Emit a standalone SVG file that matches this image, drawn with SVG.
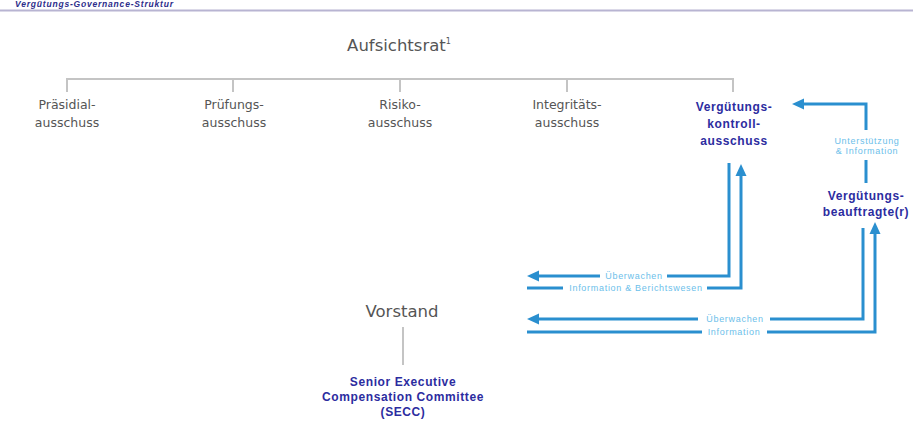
<svg xmlns="http://www.w3.org/2000/svg" width="913" height="448" viewBox="0 0 913 448">
<style>
.gray{font-family:"DejaVu Sans",sans-serif;fill:#555;text-anchor:middle}
.big{font-size:16.5px}
.sm{font-size:12.5px}
.blue{font-family:"Liberation Sans",Arial,sans-serif;font-weight:bold;font-size:12px;letter-spacing:0.6px;fill:#2c2ca0;text-anchor:middle}
.lbl{font-family:"Liberation Sans",Arial,sans-serif;font-size:9px;letter-spacing:0.7px;fill:#6cc0ea;text-anchor:middle}
.tree{stroke:#c4c4c4;stroke-width:2;fill:none}
.con{stroke:#2a8fcf;stroke-width:3;fill:none}
.head{fill:#2a8fcf}
</style>
<g id="title">
<text x="15" y="7" font-family="Liberation Sans,Arial,sans-serif" font-weight="bold" font-style="italic" font-size="8.5" letter-spacing="0.8" fill="#2c2c8a">Vergütungs-Governance-Struktur</text>
<line x1="0" y1="10.5" x2="913" y2="10.5" stroke="#b8b4d2" stroke-width="2"/>
</g>
<g id="connectors">
<path class="tree" d="M67,92 V79 H733 V92 M233,79 V92 M400,79 V92 M567,79 V92"/>
<path class="tree" d="M403,327 V365"/>
<path class="con" d="M729,163 V276 H667 M600,276 H537"/>
<polygon class="head" points="527,276 539,270.5 539,281.5"/>
<path class="con" d="M527,288 H563 M707,288 H741 V176"/>
<polygon class="head" points="741,164 735.5,176 746.5,176"/>
<path class="con" d="M863,228 V319 H770 M698,319 H537"/>
<polygon class="head" points="527,319 539,313.5 539,324.5"/>
<path class="con" d="M527,332 H702 M767,332 H875 V234"/>
<polygon class="head" points="875,222 869.5,234 880.5,234"/>
<path class="con" d="M866,130 V104 H804"/>
<polygon class="head" points="792,104 804,98.5 804,109.5"/>
<path class="con" d="M866,160 V183"/>
<text class="lbl" x="634" y="279">Überwachen</text>
<text class="lbl" x="636" y="291">Information &amp; Berichtswesen</text>
<text class="lbl" x="735" y="322">Überwachen</text>
<text class="lbl" x="734" y="335">Information</text>
<text class="lbl" x="867" y="144">Unterstützung</text>
<text class="lbl" x="867" y="154">&amp; Information</text>
</g>
<g id="aufsichtsrat"><text class="gray big" x="399" y="51">Aufsichtsrat<tspan font-size="8" dy="-7">1</tspan></text></g>
<g id="praesidial"><text class="gray sm" x="67" y="109">Präsidial-</text><text class="gray sm" x="67" y="127">ausschuss</text></g>
<g id="pruefung"><text class="gray sm" x="234" y="109">Prüfungs-</text><text class="gray sm" x="234" y="127">ausschuss</text></g>
<g id="risiko"><text class="gray sm" x="400" y="109">Risiko-</text><text class="gray sm" x="400" y="127">ausschuss</text></g>
<g id="integritaet"><text class="gray sm" x="567" y="109">Integritäts-</text><text class="gray sm" x="567" y="127">ausschuss</text></g>
<g id="verguetungskontrollausschuss"><text class="blue" x="734" y="111">Vergütungs-</text><text class="blue" x="734" y="128">kontroll-</text><text class="blue" x="734" y="145">ausschuss</text></g>
<g id="verguetungsbeauftragte"><text class="blue" x="866" y="200">Vergütungs-</text><text class="blue" x="866" y="216">beauftragte(r)</text></g>
<g id="vorstand"><text class="gray big" x="402" y="317">Vorstand</text></g>
<g id="secc"><text class="blue" x="403" y="386">Senior Executive</text><text class="blue" x="403" y="401">Compensation Committee</text><text class="blue" x="403" y="416">(SECC)</text></g>
</svg>
